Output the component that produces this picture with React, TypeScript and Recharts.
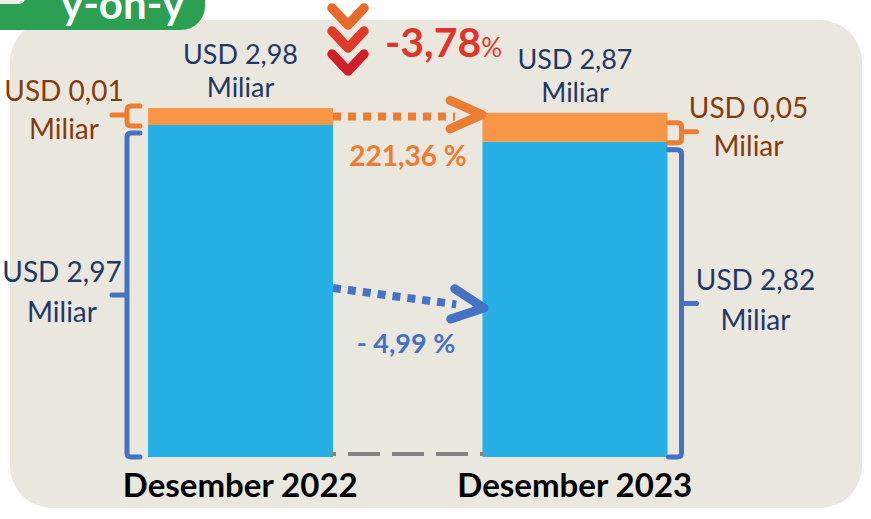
import React from 'react';
import { BarChart, Bar, XAxis, YAxis, LabelList } from 'recharts';

// ---- data (USD miliar) ----
const periods = ['Desember 2022', 'Desember 2023'];
const baseValues = [2.97, 2.82];
const topValues = [0.01, 0.05];
const totalValues = [2.98, 2.87];
const topChangeLabel = '221,36 %';
const baseChangeLabel = '- 4,99 %';
const totalChangeLabel = '-3,78';
const unitLabel = 'Miliar';
const tabTitle = 'y-on-y';

const data = periods.map((p, i) => ({
  period: p,
  base: baseValues[i],
  top: topValues[i],
  total: totalValues[i],
}));

// ---- styles ----
const W = 871;
const H = 519;
const GAP = 75;
const FONT = 'Lato, "Open Sans", sans-serif';
const NAVY = '#1F3864';
const BROWN = '#843C0C';
const ORANGE_BAR = '#F79646';
const ORANGE = '#ED7D31';
const BLUE_BAR = '#27B0E6';
const BLUE = '#4472C4';
const RED = '#E0352B';
const BG = '#EAE7DE';
const GREEN = '#2BA052';

const fmt = (v: number) => 'USD ' + v.toFixed(2).replace('.', ',');

function arrowHead(tx: number, ty: number, dx: number, dy: number, len = 35, ang = 0.45) {
  const a = Math.atan2(dy, dx);
  const p1x = tx - len * Math.cos(a - ang);
  const p1y = ty - len * Math.sin(a - ang);
  const p2x = tx - len * Math.cos(a + ang);
  const p2y = ty - len * Math.sin(a + ang);
  return `M${p1x},${p1y} L${tx},${ty} L${p2x},${p2y}`;
}

function bracePath(vx: number, top: number, bot: number, mid: number, side: 'left' | 'right', hook = 13, tick = 15) {
  const s = side === 'left' ? 1 : -1;
  return `M${vx + s * hook},${top} H${vx + s * 4} Q${vx},${top} ${vx},${top + 4} V${bot - 4} Q${vx},${bot} ${vx + s * 4},${bot} H${vx + s * hook} M${vx},${mid} H${vx - s * tick}`;
}

function getBox(props: any) {
  const vb = props.viewBox || {};
  return {
    x: Number(vb.x ?? props.x),
    y: Number(vb.y ?? props.y),
    width: Number(vb.width ?? props.width),
    height: Number(vb.height ?? props.height),
  };
}

// labels above the stacked bar + total change annotation
function TotalLabel(props: any) {
  const { x, y, width } = getBox(props);
  const index = props.index;
  const value = Number(props.value);
  const cx = x + width / 2;
  const gapStart = x + width;
  return (
    <g>
      <text x={cx} y={y - 44} textAnchor="middle" fontSize={27} fill={NAVY} fontFamily={FONT}>
        {fmt(value)}
      </text>
      <text x={cx} y={y - 11} textAnchor="middle" fontSize={27} fill={NAVY} fontFamily={FONT}>
        {unitLabel}
      </text>
      {index === 0 && (
        <g>
          {[
            { ty: y - 100, c: '#E8692B' },
            { ty: y - 77, c: '#E03A2B' },
            { ty: y - 54, c: '#CF2029' },
          ].map((ch, i) => (
            <path
              key={i}
              d={`M${gapStart - 1},${ch.ty} L${gapStart + 15},${ch.ty + 17} L${gapStart + 31},${ch.ty}`}
              stroke={ch.c}
              strokeWidth={9.5}
              fill="none"
              strokeLinecap="round"
              strokeLinejoin="round"
            />
          ))}
          <text x={gapStart + 52} y={y - 51} fill={RED} fontFamily={FONT}>
            <tspan fontSize={41} fontWeight="bold">{totalChangeLabel}</tspan>
            <tspan fontSize={26}>%</tspan>
          </text>
        </g>
      )}
    </g>
  );
}

// orange segment: side label, bracket, change arrow
function TopLabel(props: any) {
  const { x, y, width, height } = getBox(props);
  const index = props.index;
  const value = Number(props.value);
  const left = index === 0;
  const bot = y + height + 1;
  const top = bot - 20;
  const mid = (top + bot) / 2 - 1;
  const vx = left ? x - 21 : x + width + 14;
  const tx = left ? x - 84 : x + width + 81;
  const gapStart = x + width;
  const gapEnd = gapStart + 2 * GAP;
  const ly = y + height / 2;
  return (
    <g>
      <path d={bracePath(vx, top, bot, mid, left ? 'left' : 'right')} stroke={ORANGE} strokeWidth={5} fill="none" strokeLinecap="round" />
      <text x={tx} y={mid - 14} textAnchor="middle" fontSize={28} fill={BROWN} fontFamily={FONT}>
        {fmt(value)}
      </text>
      <text x={tx} y={mid + 24} textAnchor="middle" fontSize={28} fill={BROWN} fontFamily={FONT}>
        {unitLabel}
      </text>
      {left && (
        <g>
          <line x1={gapStart} y1={ly} x2={gapEnd - 28} y2={ly} stroke={ORANGE} strokeWidth={8} strokeDasharray="8 7" />
          <path d={arrowHead(gapEnd - 1, ly - 2, 1, 0, 35, 0.42)} stroke={ORANGE} strokeWidth={9} fill="none" strokeLinecap="round" strokeLinejoin="round" />
          <text x={gapStart + GAP} y={y + 58} textAnchor="middle" fontSize={28} fontWeight="bold" fill={ORANGE} fontFamily={FONT}>
            {topChangeLabel}
          </text>
        </g>
      )}
    </g>
  );
}

// blue segment: side label, bracket, change arrow, baseline
function BaseLabel(props: any) {
  const { x, y, width, height } = getBox(props);
  const index = props.index;
  const value = Number(props.value);
  const left = index === 0;
  const top = y + 8;
  const bot = y + height;
  const mid = (top + bot) / 2;
  const vx = left ? x - 21 : x + width + 14;
  const tx = left ? x - 86 : x + width + 88;
  const gapStart = x + width;
  const gapEnd = gapStart + 2 * GAP;
  const by = y + height / 2;
  const sx = gapStart;
  const sy = by - 3;
  const ex = gapEnd + 1;
  const ey = by + 17;
  const dx = ex - sx;
  const dy = ey - sy;
  const dl = Math.hypot(dx, dy);
  return (
    <g>
      <path d={bracePath(vx, top, bot, mid, left ? 'left' : 'right')} stroke={BLUE} strokeWidth={5} fill="none" strokeLinecap="round" />
      <text x={tx} y={mid - 13} textAnchor="middle" fontSize={28} fill={NAVY} fontFamily={FONT}>
        {fmt(value)}
      </text>
      <text x={tx} y={mid + 27} textAnchor="middle" fontSize={28} fill={NAVY} fontFamily={FONT}>
        {unitLabel}
      </text>
      {left && (
        <g>
          <line x1={sx} y1={sy} x2={ex - (dx / dl) * 28} y2={ey - (dy / dl) * 28} stroke={BLUE} strokeWidth={8} strokeDasharray="8 7" />
          <path d={arrowHead(ex, ey, dx, dy, 35, 0.45)} stroke={BLUE} strokeWidth={9} fill="none" strokeLinecap="round" strokeLinejoin="round" />
          <text x={gapStart + GAP - 2} y={by + 62} textAnchor="middle" fontSize={27} fontWeight="bold" fill={BLUE} fontFamily={FONT}>
            {baseChangeLabel}
          </text>
          <line x1={gapStart - 1} y1={bot - 3} x2={gapEnd} y2={bot - 3} stroke="#828282" strokeWidth={4} strokeDasharray="32 12" strokeDashoffset={28} />
        </g>
      )}
    </g>
  );
}

function PeriodTick(props: any) {
  const { x, y, payload } = props;
  return (
    <text x={x} y={y + 40} textAnchor="middle" fontSize={33} fontWeight="bold" fill="#000" fontFamily={FONT}>
      {payload.value}
    </text>
  );
}

export default function App() {
  return (
    <div style={{ position: 'absolute', left: 0, top: 0, width: W, height: H, overflow: 'hidden', background: '#fff' }}>
      <svg width={W} height={H} style={{ position: 'absolute', left: 0, top: 0 }}>
        <rect x={10} y={20} width={852} height={488} rx={42} ry={42} fill={BG} />
        <rect x={-30} y={-30} width={235} height={60} rx={24} ry={24} fill={GREEN} />
        <rect x={-20} y={-20} width={45} height={24} rx={6} ry={6} fill="#EEF0E6" />
        <text x={61} y={19} fontSize={42} fontWeight="bold" fill="#fff" fontFamily={FONT}>
          {tabTitle}
        </text>
      </svg>
      <div style={{ position: 'absolute', left: 0, top: 0 }}>
        <BarChart
          width={W}
          height={H}
          data={data}
          margin={{ top: 10, right: 129, left: 73, bottom: 0 }}
          barCategoryGap={GAP}
        >
          <XAxis
            dataKey="period"
            height={62}
            axisLine={false}
            tickLine={false}
            tickSize={0}
            tickMargin={0}
            interval={0}
            tick={<PeriodTick />}
          />
          <YAxis hide domain={[0, 4]} />
          <Bar dataKey="base" stackId="a" fill={BLUE_BAR} isAnimationActive={false}>
            <LabelList dataKey="base" content={<BaseLabel />} />
          </Bar>
          <Bar
            dataKey="top"
            stackId="a"
            fill={ORANGE_BAR}
            isAnimationActive={false}
            minPointSize={(_v: number, i: number) => 14 + topValues[i] * 300}
          >
            <LabelList dataKey="top" content={<TopLabel />} />
            <LabelList dataKey="total" content={<TotalLabel />} />
          </Bar>
        </BarChart>
      </div>
    </div>
  );
}
